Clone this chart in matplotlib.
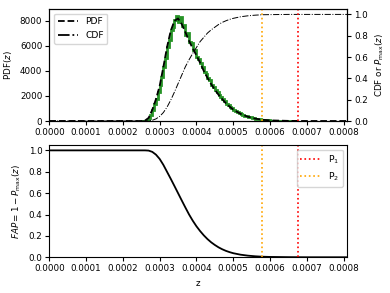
import numpy as np
import matplotlib
matplotlib.use('Agg')
import matplotlib.pyplot as plt

# z grid for smooth curves
z = [0.0, 0.00025, 0.00026, 0.00027, 0.00028, 0.00029, 0.00030, 0.00031, 0.00032,
     0.00033, 0.00034, 0.00035, 0.00036, 0.00037, 0.00038, 0.00039, 0.00040,
     0.00041, 0.00042, 0.00043, 0.00044, 0.00045, 0.00046, 0.00047, 0.00048,
     0.00049, 0.00050, 0.00052, 0.00054, 0.00056, 0.00058, 0.00060, 0.00065,
     0.00070, 0.00081]
pdf = [0, 0, 30, 250, 900, 1750, 2800, 4300, 5900,
       7200, 8000, 8200, 7750, 7100, 6400, 5800, 5250,
       4650, 4000, 3450, 2950, 2500, 2100, 1750, 1420,
       1150, 920, 570, 340, 190, 100, 50, 10,
       0, 0]
cdf = [0, 0, 0, 0.001, 0.007, 0.02, 0.043, 0.079, 0.13,
       0.195, 0.27, 0.35, 0.43, 0.51, 0.575, 0.635, 0.69,
       0.745, 0.785, 0.825, 0.855, 0.88, 0.905, 0.925, 0.94,
       0.953, 0.963, 0.978, 0.987, 0.993, 0.997, 0.998, 1.0,
       1.0, 1.0]
fap = [1.0, 1.0, 1.0, 0.998, 0.986, 0.96, 0.92, 0.865, 0.80,
       0.735, 0.668, 0.60, 0.532, 0.465, 0.40, 0.342, 0.29,
       0.245, 0.205, 0.17, 0.14, 0.115, 0.093, 0.075, 0.06,
       0.048, 0.038, 0.024, 0.015, 0.009, 0.005, 0.003, 0.001,
       0.0, 0.0]

# noisy histogram (bin width 5e-6 starting at 0.00025)
hist_start = 0.00025
hist_width = 0.000005
hist_vals = [0, 0, 40, 120, 280, 520, 880, 1350, 1780, 2300,
             2850, 3500, 4350, 5050, 5950, 6500, 7250, 7500, 8100, 8400,
             7900, 8300, 7600, 7700, 6900, 7000, 6300, 6250, 5700, 5650,
             5150, 4950, 4600, 4350, 3950, 3750, 3400, 3250, 2900, 2750,
             2480, 2300, 2080, 1950, 1720, 1600, 1400, 1300, 1130, 1050,
             900, 840, 720, 660, 560, 510, 430, 400, 330, 300,
             250, 230, 180, 170, 130, 120, 90, 85, 60, 55,
             40, 35, 25, 25, 15, 15, 10, 8, 5, 5, 3, 0]

p1 = 0.000676
p2 = 0.000578

fs = 6.3
plt.rcParams['font.size'] = fs

fig = plt.figure(figsize=(3.9, 2.93), dpi=100)
ax1 = fig.add_axes([0.1264, 0.587, 0.764, 0.382])
ax3 = fig.add_axes([0.1264, 0.122, 0.764, 0.383])

edges = hist_start + hist_width * np.arange(len(hist_vals) + 1)
ax1.stairs(hist_vals, edges, color='green', lw=2.0, alpha=0.85)
ax1.plot(z, pdf, 'k--', lw=1.3, label='PDF')
ax1.plot([], [], 'k-.', lw=1.3, label='CDF')
ax1.set_ylim(0, 8950)
ax1.set_xlim(0, 0.00081)
ax1.set_ylabel('PDF($z$)', fontsize=fs)
ax1.legend(loc='upper left', fontsize=fs + 0.3, handlelength=2.2)

ax2 = ax1.twinx()
ax2.plot(z, cdf, 'k-.', lw=0.7)
ax2.axvline(p1, color='red', ls=':', lw=1.2)
ax2.axvline(p2, color='orange', ls=':', lw=1.2)
ax2.set_ylim(0, 1.05)
ax2.set_ylabel('CDF or $P_{\\max}(z)$', fontsize=fs)

ax3.plot(z, fap, 'k-', lw=1.3)
ax3.axvline(p1, color='red', ls=':', lw=1.2, label='P$_1$')
ax3.axvline(p2, color='orange', ls=':', lw=1.2, label='P$_2$')
ax3.set_xlim(0, 0.00081)
ax3.set_ylim(0, 1.05)
ax3.set_xlabel('z', fontsize=fs)
ax3.set_ylabel('$FAP = 1 - P_{\\max}(z)$', fontsize=fs)
ax3.legend(loc='upper right', fontsize=fs + 0.3, handlelength=2.2)

xt = [0.0, 0.0001, 0.0002, 0.0003, 0.0004, 0.0005, 0.0006, 0.0007, 0.0008]
for a in (ax1, ax3):
    a.set_xticks(xt)
    a.set_xticklabels(['%.4f' % v for v in xt])
for a in (ax1, ax2, ax3):
    a.tick_params(labelsize=fs, length=3, pad=2)

fig.savefig('out.png', dpi=100)
